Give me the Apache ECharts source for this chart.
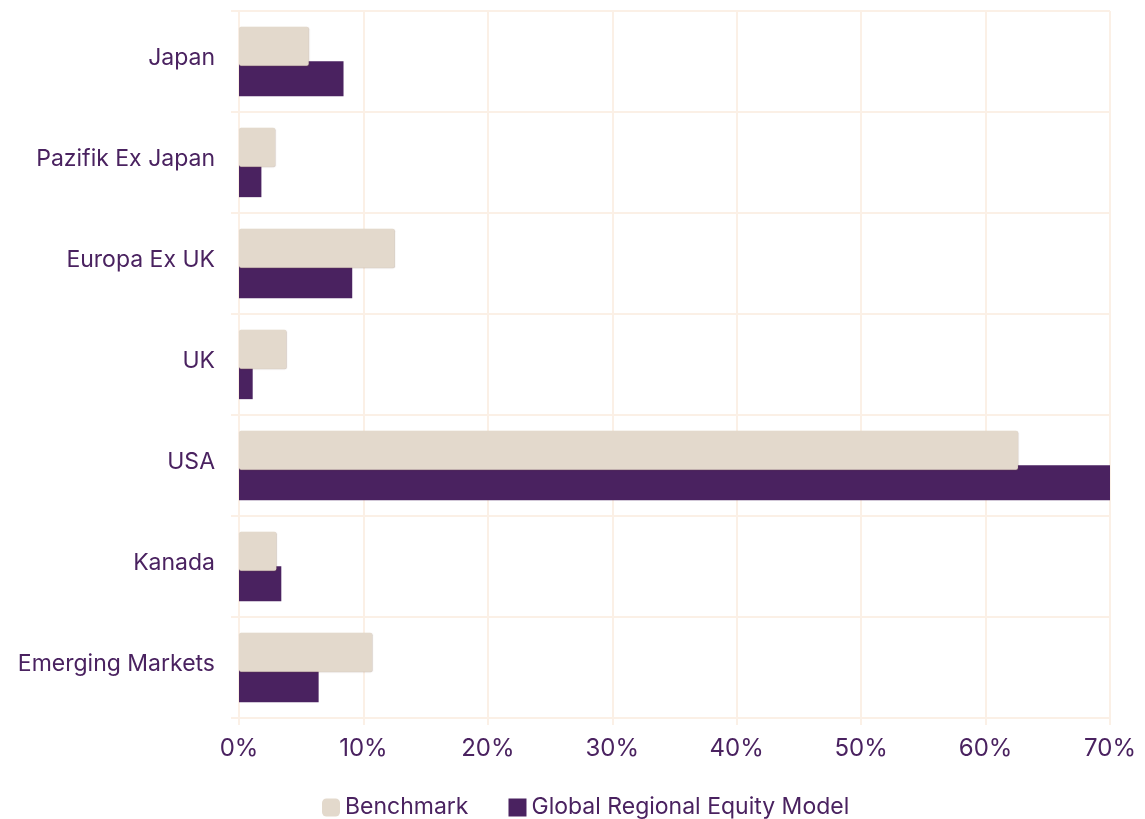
<!DOCTYPE html>
<html>
<head>
<meta charset="utf-8">
<script src="https://cdn.jsdelivr.net/npm/echarts@6/dist/echarts.min.js"></script>
<style>
  html, body { margin: 0; padding: 0; background: #fff; }
  #chart { width: 1145px; height: 819px; }
</style>
</head>
<body>
<div id="chart"></div>
<script>
// 区域分类（从上到下）
const regions = ['Japan', 'Pazifik Ex Japan', 'Europa Ex UK', 'UK', 'USA', 'Kanada', 'Emerging Markets']
const benchmark = [5.6, 2.9, 12.5, 3.8, 62.6, 3.0, 10.7]
const modelWeights = [8.4, 1.8, 9.1, 1.1, 70.0, 3.4, 6.4]
const xTicks = [0, 10, 20, 30, 40, 50, 60, 70]

const purple = '#4a2260'
const beige = '#e3d9cc'
const gridColor = '#fbf0e6'
const font = 'Inter, "Noto Sans", sans-serif'

let myChart = echarts.init(document.getElementById('chart'))
let option = {
  animation: false,
  textStyle: { fontFamily: font },
  grid: {
    left: 239,
    right: 35,
    top: 11,
    bottom: 101
  },
  legend: {
    top: 791,
    left: 317,
    itemWidth: 18,
    itemHeight: 18,
    itemGap: 40,
    textStyle: { color: purple, fontSize: 23, fontFamily: font },
    data: [
      { name: 'Benchmark', icon: 'roundRect' },
      { name: 'Global Regional Equity Model', icon: 'rect' }
    ]
  },
  xAxis: {
    type: 'value',
    min: xTicks[0],
    max: xTicks[xTicks.length - 1],
    interval: 10,
    axisLabel: {
      color: purple,
      fontSize: 24,
      margin: 19,
      formatter: v => v + '%'
    },
    axisLine: { show: false },
    axisTick: { show: true, length: 7, lineStyle: { color: gridColor, width: 2 } },
    splitLine: { lineStyle: { color: gridColor, width: 2 } }
  },
  yAxis: {
    type: 'category',
    inverse: true,
    data: regions,
    // 标签略高于类目中心
    axisLabel: { color: purple, fontSize: 23, margin: 24, lineHeight: 6, verticalAlign: 'bottom' },
    axisLine: { show: true, lineStyle: { color: gridColor, width: 2 } },
    axisTick: { show: true, length: 8, lineStyle: { color: gridColor, width: 2 } },
    splitLine: { show: true, lineStyle: { color: gridColor, width: 2 } }
  },
  series: [
    {
      name: 'Benchmark',
      type: 'bar',
      z: 3,
      barWidth: 39,
      barGap: '-12%',
      itemStyle: {
        color: beige,
        borderRadius: 2,
        shadowColor: 'rgba(120,90,70,0.35)',
        shadowBlur: 1,
        shadowOffsetX: 0.5,
        shadowOffsetY: 0.5
      },
      data: benchmark
    },
    {
      name: 'Global Regional Equity Model',
      type: 'bar',
      z: 2,
      barWidth: 35,
      barGap: '-12%',
      itemStyle: { color: purple },
      data: modelWeights
    }
  ]
}
myChart.setOption(option, true)
</script>
</body>
</html>
